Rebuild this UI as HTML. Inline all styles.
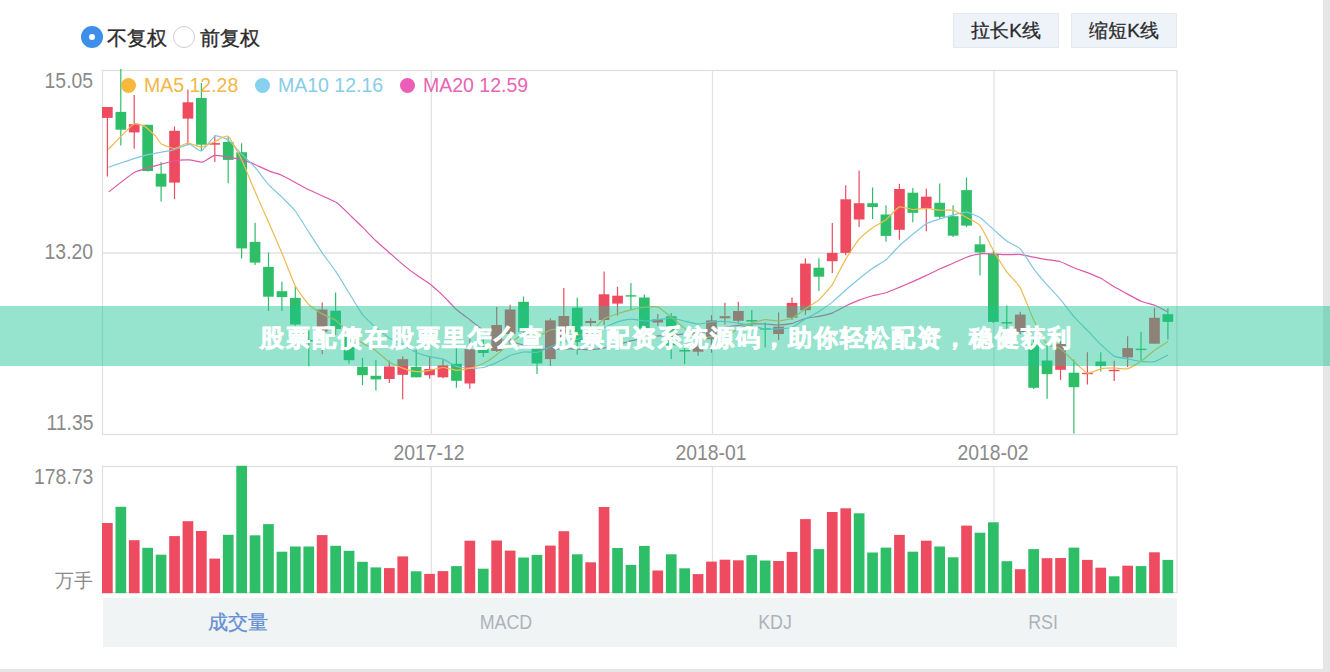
<!DOCTYPE html>
<html><head><meta charset="utf-8">
<style>
html,body{margin:0;padding:0;}
body{width:1330px;height:672px;overflow:hidden;background:#fff;position:relative;font-family:"Liberation Sans",sans-serif;}
.abs{position:absolute;white-space:nowrap;}
.vscroll{position:absolute;left:1323px;top:0;width:7px;height:672px;background:#e6e6e6;}
.hscroll{position:absolute;left:0;top:669px;width:1330px;height:3px;background:#e6e6e6;}
.radio{position:absolute;width:22px;height:22px;border-radius:50%;box-sizing:border-box;}
.r1{left:81px;top:26px;background:#3d8fe9;}
.r1:after{content:"";position:absolute;left:8px;top:8px;width:6px;height:6px;border-radius:50%;background:#fff;}
.r2{left:173px;top:26px;border:1.5px solid #cfcfcf;background:#fff;}
.lbl{font-size:20px;color:#2b2b2b;top:24.5px;-webkit-text-stroke:0.35px #2b2b2b;}
.btn{position:absolute;top:13px;height:35px;width:106px;background:#eef2f9;border:1px solid #e4e8f0;box-sizing:border-box;font-size:19px;color:#2b2b2b;text-align:center;line-height:34px;-webkit-text-stroke:0.3px #2b2b2b;}
.ax{font-size:22px;color:#8a8a8a;transform:scaleX(0.88);}
.yl{right:1236.7px;transform-origin:right top;}
.xl{width:200px;text-align:center;transform-origin:center top;}
.axc{font-size:19px;color:#8a8a8a;}
.leg{font-size:19.5px;top:74px;}
.dot{position:absolute;width:15px;height:15px;border-radius:50%;top:78px;}
.tabs{position:absolute;left:102.5px;top:598px;width:1074.5px;height:49px;background:#f1f4f5;}
.tab{position:absolute;top:610px;font-size:19px;color:#adb2ba;}
.tc{width:200px;text-align:center;font-size:20.5px;top:609.5px;transform:scaleX(0.87);}
.banner{position:absolute;left:0;top:306px;width:1330px;height:60px;background:rgba(27,196,146,0.46);}
.btxt{position:absolute;left:0;top:306px;width:1330px;height:60px;line-height:60px;text-align:left;font-size:24px;font-weight:bold;color:#fff;-webkit-text-stroke:0.8px #fff;letter-spacing:1.95px;}
</style></head><body>
<div class="radio r1"></div><div class="abs lbl" style="left:107px">不复权</div>
<div class="radio r2"></div><div class="abs lbl" style="left:200px">前复权</div>
<div class="btn" style="left:953px">拉长K线</div>
<div class="btn" style="left:1071px">缩短K线</div>

<div class="abs ax yl" style="top:67.5px">15.05</div>
<div class="abs ax yl" style="top:238.5px">13.20</div>
<div class="abs ax yl" style="top:409.5px">11.35</div>
<div class="abs ax xl" style="left:329.4px;top:440px">2017-12</div>
<div class="abs ax xl" style="left:611px;top:440px">2018-01</div>
<div class="abs ax xl" style="left:892.5px;top:440px">2018-02</div>
<div class="abs ax yl" style="top:464px">178.73</div>
<div class="abs axc" style="right:1236.8px;top:568px">万手</div>

<svg style="position:absolute;left:0;top:0" width="1330" height="672">
<line x1="431.3" y1="70" x2="431.3" y2="434" stroke="#e0e2e7" stroke-width="1.3"/>
<line x1="431.3" y1="467" x2="431.3" y2="593" stroke="#e0e2e7" stroke-width="1.3"/>
<line x1="712.5" y1="70" x2="712.5" y2="434" stroke="#e0e2e7" stroke-width="1.3"/>
<line x1="712.5" y1="467" x2="712.5" y2="593" stroke="#e0e2e7" stroke-width="1.3"/>
<line x1="994.0" y1="70" x2="994.0" y2="434" stroke="#e0e2e7" stroke-width="1.3"/>
<line x1="994.0" y1="467" x2="994.0" y2="593" stroke="#e0e2e7" stroke-width="1.3"/>
<line x1="102.5" y1="253" x2="1177" y2="253" stroke="#e0e2e7" stroke-width="1.3"/>
<rect x="102.5" y="70.5" width="1074.5" height="364" fill="none" stroke="#dfe0e3" stroke-width="1.3"/>
<rect x="102.5" y="466.5" width="1074.5" height="126" fill="none" stroke="#dfe0e3" stroke-width="1.3"/>
<line x1="107.4" y1="107.0" x2="107.4" y2="176.6" stroke="#ee4a60" stroke-width="1.2"/>
<rect x="102.0" y="107.0" width="10.7" height="10.9" fill="#ee4a60"/>
<line x1="120.8" y1="69.0" x2="120.8" y2="145.4" stroke="#2fbe68" stroke-width="1.2"/>
<rect x="115.5" y="111.9" width="10.7" height="17.8" fill="#2fbe68"/>
<line x1="134.2" y1="95.1" x2="134.2" y2="148.7" stroke="#ee4a60" stroke-width="1.2"/>
<rect x="128.9" y="124.2" width="10.7" height="8.2" fill="#ee4a60"/>
<line x1="147.7" y1="124.8" x2="147.7" y2="171.5" stroke="#2fbe68" stroke-width="1.2"/>
<rect x="142.3" y="124.8" width="10.7" height="46.2" fill="#2fbe68"/>
<line x1="161.1" y1="162.1" x2="161.1" y2="201.6" stroke="#2fbe68" stroke-width="1.2"/>
<rect x="155.7" y="173.7" width="10.7" height="12.9" fill="#2fbe68"/>
<line x1="174.5" y1="126.4" x2="174.5" y2="199.0" stroke="#ee4a60" stroke-width="1.2"/>
<rect x="169.2" y="130.8" width="10.7" height="51.8" fill="#ee4a60"/>
<line x1="187.9" y1="89.6" x2="187.9" y2="145.4" stroke="#ee4a60" stroke-width="1.2"/>
<rect x="182.6" y="102.3" width="10.7" height="16.3" fill="#ee4a60"/>
<line x1="201.4" y1="82.9" x2="201.4" y2="151.0" stroke="#2fbe68" stroke-width="1.2"/>
<rect x="196.0" y="98.0" width="10.7" height="46.7" fill="#2fbe68"/>
<line x1="214.8" y1="135.3" x2="214.8" y2="162.1" stroke="#ee4a60" stroke-width="1.2"/>
<rect x="209.4" y="143.1" width="10.7" height="1.6" fill="#ee4a60"/>
<line x1="228.2" y1="136.4" x2="228.2" y2="183.3" stroke="#2fbe68" stroke-width="1.2"/>
<rect x="222.9" y="142.0" width="10.7" height="17.9" fill="#2fbe68"/>
<line x1="241.6" y1="143.2" x2="241.6" y2="258.6" stroke="#2fbe68" stroke-width="1.2"/>
<rect x="236.3" y="152.2" width="10.7" height="96.2" fill="#2fbe68"/>
<line x1="255.1" y1="222.8" x2="255.1" y2="265.0" stroke="#2fbe68" stroke-width="1.2"/>
<rect x="249.7" y="241.9" width="10.7" height="20.7" fill="#2fbe68"/>
<line x1="268.5" y1="252.4" x2="268.5" y2="311.0" stroke="#2fbe68" stroke-width="1.2"/>
<rect x="263.1" y="266.9" width="10.7" height="29.8" fill="#2fbe68"/>
<line x1="281.9" y1="281.7" x2="281.9" y2="311.0" stroke="#2fbe68" stroke-width="1.2"/>
<rect x="276.6" y="291.2" width="10.7" height="5.9" fill="#2fbe68"/>
<line x1="295.3" y1="286.4" x2="295.3" y2="325.7" stroke="#2fbe68" stroke-width="1.2"/>
<rect x="290.0" y="297.9" width="10.7" height="26.6" fill="#2fbe68"/>
<line x1="308.8" y1="330.5" x2="308.8" y2="366.2" stroke="#2fbe68" stroke-width="1.2"/>
<rect x="303.4" y="340.0" width="10.7" height="1.5" fill="#2fbe68"/>
<line x1="322.2" y1="302.4" x2="322.2" y2="354.3" stroke="#ee4a60" stroke-width="1.2"/>
<rect x="316.8" y="309.5" width="10.7" height="22.2" fill="#ee4a60"/>
<line x1="335.6" y1="292.4" x2="335.6" y2="335.0" stroke="#2fbe68" stroke-width="1.2"/>
<rect x="330.3" y="310.7" width="10.7" height="18.3" fill="#2fbe68"/>
<line x1="349.0" y1="330.0" x2="349.0" y2="363.8" stroke="#2fbe68" stroke-width="1.2"/>
<rect x="343.7" y="336.5" width="10.7" height="23.7" fill="#2fbe68"/>
<line x1="362.5" y1="357.9" x2="362.5" y2="385.2" stroke="#2fbe68" stroke-width="1.2"/>
<rect x="357.1" y="366.7" width="10.7" height="8.5" fill="#2fbe68"/>
<line x1="375.9" y1="360.0" x2="375.9" y2="390.4" stroke="#2fbe68" stroke-width="1.2"/>
<rect x="370.5" y="375.8" width="10.7" height="3.6" fill="#2fbe68"/>
<line x1="389.3" y1="360.6" x2="389.3" y2="383.0" stroke="#ee4a60" stroke-width="1.2"/>
<rect x="384.0" y="366.5" width="10.7" height="12.5" fill="#ee4a60"/>
<line x1="402.7" y1="356.5" x2="402.7" y2="399.2" stroke="#ee4a60" stroke-width="1.2"/>
<rect x="397.4" y="359.2" width="10.7" height="15.6" fill="#ee4a60"/>
<line x1="416.2" y1="349.2" x2="416.2" y2="377.3" stroke="#2fbe68" stroke-width="1.2"/>
<rect x="410.8" y="366.9" width="10.7" height="10.4" fill="#2fbe68"/>
<line x1="429.6" y1="356.5" x2="429.6" y2="378.8" stroke="#ee4a60" stroke-width="1.2"/>
<rect x="424.2" y="369.0" width="10.7" height="6.2" fill="#ee4a60"/>
<line x1="443.0" y1="359.6" x2="443.0" y2="378.3" stroke="#ee4a60" stroke-width="1.2"/>
<rect x="437.6" y="365.4" width="10.7" height="11.9" fill="#ee4a60"/>
<line x1="456.4" y1="348.1" x2="456.4" y2="387.7" stroke="#2fbe68" stroke-width="1.2"/>
<rect x="451.1" y="363.8" width="10.7" height="17.0" fill="#2fbe68"/>
<line x1="469.8" y1="338.8" x2="469.8" y2="388.8" stroke="#ee4a60" stroke-width="1.2"/>
<rect x="464.5" y="349.2" width="10.7" height="34.3" fill="#ee4a60"/>
<line x1="483.3" y1="338.0" x2="483.3" y2="357.0" stroke="#2fbe68" stroke-width="1.2"/>
<rect x="477.9" y="349.0" width="10.7" height="4.0" fill="#2fbe68"/>
<line x1="496.7" y1="307.0" x2="496.7" y2="352.0" stroke="#ee4a60" stroke-width="1.2"/>
<rect x="491.3" y="325.0" width="10.7" height="26.0" fill="#ee4a60"/>
<line x1="510.1" y1="304.8" x2="510.1" y2="348.0" stroke="#ee4a60" stroke-width="1.2"/>
<rect x="504.8" y="309.5" width="10.7" height="24.5" fill="#ee4a60"/>
<line x1="523.5" y1="296.6" x2="523.5" y2="335.0" stroke="#2fbe68" stroke-width="1.2"/>
<rect x="518.2" y="301.8" width="10.7" height="30.0" fill="#2fbe68"/>
<line x1="537.0" y1="340.0" x2="537.0" y2="374.0" stroke="#2fbe68" stroke-width="1.2"/>
<rect x="531.6" y="347.0" width="10.7" height="16.5" fill="#2fbe68"/>
<line x1="550.4" y1="318.3" x2="550.4" y2="366.1" stroke="#ee4a60" stroke-width="1.2"/>
<rect x="545.0" y="320.4" width="10.7" height="38.7" fill="#ee4a60"/>
<line x1="563.8" y1="288.1" x2="563.8" y2="345.0" stroke="#ee4a60" stroke-width="1.2"/>
<rect x="558.5" y="316.0" width="10.7" height="22.0" fill="#ee4a60"/>
<line x1="577.2" y1="297.8" x2="577.2" y2="354.4" stroke="#2fbe68" stroke-width="1.2"/>
<rect x="571.9" y="307.7" width="10.7" height="34.3" fill="#2fbe68"/>
<line x1="590.7" y1="318.3" x2="590.7" y2="328.7" stroke="#ee4a60" stroke-width="1.2"/>
<rect x="585.3" y="321.0" width="10.7" height="2.0" fill="#ee4a60"/>
<line x1="604.1" y1="271.5" x2="604.1" y2="325.0" stroke="#ee4a60" stroke-width="1.2"/>
<rect x="598.7" y="294.3" width="10.7" height="25.7" fill="#ee4a60"/>
<line x1="617.5" y1="286.7" x2="617.5" y2="315.6" stroke="#ee4a60" stroke-width="1.2"/>
<rect x="612.2" y="295.7" width="10.7" height="7.9" fill="#ee4a60"/>
<line x1="630.9" y1="283.0" x2="630.9" y2="310.0" stroke="#2fbe68" stroke-width="1.2"/>
<rect x="625.6" y="295.2" width="10.7" height="1.4" fill="#2fbe68"/>
<line x1="644.4" y1="294.4" x2="644.4" y2="330.0" stroke="#2fbe68" stroke-width="1.2"/>
<rect x="639.0" y="297.5" width="10.7" height="31.2" fill="#2fbe68"/>
<line x1="657.8" y1="314.0" x2="657.8" y2="326.0" stroke="#ee4a60" stroke-width="1.2"/>
<rect x="652.4" y="319.4" width="10.7" height="3.1" fill="#ee4a60"/>
<line x1="671.2" y1="313.0" x2="671.2" y2="359.0" stroke="#2fbe68" stroke-width="1.2"/>
<rect x="665.9" y="316.2" width="10.7" height="29.1" fill="#2fbe68"/>
<line x1="684.6" y1="347.5" x2="684.6" y2="364.0" stroke="#2fbe68" stroke-width="1.2"/>
<rect x="679.3" y="350.0" width="10.7" height="1.5" fill="#2fbe68"/>
<line x1="698.1" y1="339.0" x2="698.1" y2="355.8" stroke="#ee4a60" stroke-width="1.2"/>
<rect x="692.7" y="346.5" width="10.7" height="5.2" fill="#ee4a60"/>
<line x1="711.5" y1="315.2" x2="711.5" y2="352.7" stroke="#ee4a60" stroke-width="1.2"/>
<rect x="706.1" y="320.4" width="10.7" height="18.8" fill="#ee4a60"/>
<line x1="724.9" y1="302.7" x2="724.9" y2="324.6" stroke="#ee4a60" stroke-width="1.2"/>
<rect x="719.6" y="316.2" width="10.7" height="2.1" fill="#ee4a60"/>
<line x1="738.3" y1="301.7" x2="738.3" y2="322.5" stroke="#ee4a60" stroke-width="1.2"/>
<rect x="733.0" y="311.0" width="10.7" height="9.8" fill="#ee4a60"/>
<line x1="751.8" y1="310.0" x2="751.8" y2="328.8" stroke="#2fbe68" stroke-width="1.2"/>
<rect x="746.4" y="320.0" width="10.7" height="1.5" fill="#2fbe68"/>
<line x1="765.2" y1="322.5" x2="765.2" y2="347.5" stroke="#2fbe68" stroke-width="1.2"/>
<rect x="759.8" y="328.2" width="10.7" height="1.4" fill="#2fbe68"/>
<line x1="778.6" y1="312.4" x2="778.6" y2="340.0" stroke="#ee4a60" stroke-width="1.2"/>
<rect x="773.2" y="326.7" width="10.7" height="7.3" fill="#ee4a60"/>
<line x1="792.0" y1="297.5" x2="792.0" y2="320.0" stroke="#ee4a60" stroke-width="1.2"/>
<rect x="786.7" y="302.9" width="10.7" height="14.8" fill="#ee4a60"/>
<line x1="805.4" y1="258.2" x2="805.4" y2="314.8" stroke="#ee4a60" stroke-width="1.2"/>
<rect x="800.1" y="263.6" width="10.7" height="46.7" fill="#ee4a60"/>
<line x1="818.9" y1="258.2" x2="818.9" y2="291.0" stroke="#2fbe68" stroke-width="1.2"/>
<rect x="813.5" y="267.7" width="10.7" height="9.0" fill="#2fbe68"/>
<line x1="832.3" y1="223.1" x2="832.3" y2="273.1" stroke="#ee4a60" stroke-width="1.2"/>
<rect x="826.9" y="252.9" width="10.7" height="8.3" fill="#ee4a60"/>
<line x1="845.7" y1="185.3" x2="845.7" y2="255.2" stroke="#ee4a60" stroke-width="1.2"/>
<rect x="840.4" y="199.3" width="10.7" height="53.6" fill="#ee4a60"/>
<line x1="859.1" y1="170.4" x2="859.1" y2="227.0" stroke="#ee4a60" stroke-width="1.2"/>
<rect x="853.8" y="203.2" width="10.7" height="16.3" fill="#ee4a60"/>
<line x1="872.6" y1="187.4" x2="872.6" y2="219.0" stroke="#2fbe68" stroke-width="1.2"/>
<rect x="867.2" y="203.2" width="10.7" height="3.8" fill="#2fbe68"/>
<line x1="886.0" y1="205.2" x2="886.0" y2="241.8" stroke="#2fbe68" stroke-width="1.2"/>
<rect x="880.6" y="214.5" width="10.7" height="21.4" fill="#2fbe68"/>
<line x1="899.4" y1="183.8" x2="899.4" y2="239.8" stroke="#ee4a60" stroke-width="1.2"/>
<rect x="894.1" y="189.0" width="10.7" height="40.8" fill="#ee4a60"/>
<line x1="912.8" y1="188.0" x2="912.8" y2="222.2" stroke="#2fbe68" stroke-width="1.2"/>
<rect x="907.5" y="192.7" width="10.7" height="20.1" fill="#2fbe68"/>
<line x1="926.3" y1="188.7" x2="926.3" y2="231.3" stroke="#ee4a60" stroke-width="1.2"/>
<rect x="920.9" y="196.7" width="10.7" height="11.5" fill="#ee4a60"/>
<line x1="939.7" y1="183.5" x2="939.7" y2="218.8" stroke="#2fbe68" stroke-width="1.2"/>
<rect x="934.3" y="202.8" width="10.7" height="14.0" fill="#2fbe68"/>
<line x1="953.1" y1="205.2" x2="953.1" y2="236.9" stroke="#2fbe68" stroke-width="1.2"/>
<rect x="947.8" y="216.2" width="10.7" height="19.5" fill="#2fbe68"/>
<line x1="966.5" y1="177.5" x2="966.5" y2="227.2" stroke="#2fbe68" stroke-width="1.2"/>
<rect x="961.2" y="190.1" width="10.7" height="35.5" fill="#2fbe68"/>
<line x1="980.0" y1="235.7" x2="980.0" y2="275.4" stroke="#2fbe68" stroke-width="1.2"/>
<rect x="974.6" y="244.3" width="10.7" height="8.1" fill="#2fbe68"/>
<line x1="993.4" y1="250.3" x2="993.4" y2="323.0" stroke="#2fbe68" stroke-width="1.2"/>
<rect x="988.0" y="253.7" width="10.7" height="68.2" fill="#2fbe68"/>
<line x1="1006.8" y1="305.4" x2="1006.8" y2="332.0" stroke="#2fbe68" stroke-width="1.2"/>
<rect x="1001.5" y="322.0" width="10.7" height="1.5" fill="#2fbe68"/>
<line x1="1020.2" y1="311.7" x2="1020.2" y2="334.0" stroke="#ee4a60" stroke-width="1.2"/>
<rect x="1014.9" y="314.6" width="10.7" height="17.4" fill="#ee4a60"/>
<line x1="1033.7" y1="340.0" x2="1033.7" y2="389.0" stroke="#2fbe68" stroke-width="1.2"/>
<rect x="1028.3" y="343.7" width="10.7" height="44.1" fill="#2fbe68"/>
<line x1="1047.1" y1="345.1" x2="1047.1" y2="398.8" stroke="#2fbe68" stroke-width="1.2"/>
<rect x="1041.7" y="360.5" width="10.7" height="13.6" fill="#2fbe68"/>
<line x1="1060.5" y1="340.0" x2="1060.5" y2="380.0" stroke="#ee4a60" stroke-width="1.2"/>
<rect x="1055.2" y="343.7" width="10.7" height="26.1" fill="#ee4a60"/>
<line x1="1073.9" y1="359.6" x2="1073.9" y2="433.6" stroke="#2fbe68" stroke-width="1.2"/>
<rect x="1068.6" y="372.7" width="10.7" height="14.5" fill="#2fbe68"/>
<line x1="1087.4" y1="352.2" x2="1087.4" y2="384.6" stroke="#ee4a60" stroke-width="1.2"/>
<rect x="1082.0" y="372.8" width="10.7" height="1.4" fill="#ee4a60"/>
<line x1="1100.8" y1="352.2" x2="1100.8" y2="371.5" stroke="#2fbe68" stroke-width="1.2"/>
<rect x="1095.4" y="361.5" width="10.7" height="4.6" fill="#2fbe68"/>
<line x1="1114.2" y1="360.7" x2="1114.2" y2="380.9" stroke="#ee4a60" stroke-width="1.2"/>
<rect x="1108.8" y="369.8" width="10.7" height="1.4" fill="#ee4a60"/>
<line x1="1127.6" y1="336.2" x2="1127.6" y2="366.9" stroke="#ee4a60" stroke-width="1.2"/>
<rect x="1122.3" y="348.1" width="10.7" height="9.3" fill="#ee4a60"/>
<line x1="1141.0" y1="331.7" x2="1141.0" y2="360.4" stroke="#2fbe68" stroke-width="1.2"/>
<rect x="1135.7" y="348.7" width="10.7" height="1.4" fill="#2fbe68"/>
<line x1="1154.5" y1="307.7" x2="1154.5" y2="343.7" stroke="#ee4a60" stroke-width="1.2"/>
<rect x="1149.1" y="317.8" width="10.7" height="25.9" fill="#ee4a60"/>
<line x1="1167.9" y1="308.3" x2="1167.9" y2="339.4" stroke="#2fbe68" stroke-width="1.2"/>
<rect x="1162.5" y="314.2" width="10.7" height="7.7" fill="#2fbe68"/>
<path d="M108.9,191.8 C110.9,190.3 130.8,174.0 135.7,171.7 C140.6,169.4 169.7,161.9 173.7,161.0 C177.7,160.1 187.1,159.8 189.3,159.9 C191.5,160.0 200.8,162.4 202.7,162.1 C204.6,161.8 212.3,155.6 215.0,155.4 C217.7,155.2 235.7,158.2 238.4,158.8 C241.1,159.4 248.9,161.9 251.3,162.9 C253.7,163.9 268.4,170.7 270.7,171.6 C273.0,172.5 279.4,174.1 282.3,175.5 C285.2,176.9 305.3,188.0 309.4,190.0 C313.5,192.0 333.2,200.5 336.4,202.5 C339.6,204.5 349.9,215.1 351.9,217.0 C353.9,218.9 360.7,225.4 362.5,227.2 C364.3,229.0 373.9,238.9 375.9,240.8 C377.9,242.7 387.3,250.9 389.3,252.7 C391.3,254.4 400.7,262.8 402.7,264.4 C404.7,266.1 414.1,273.3 416.2,274.7 C418.2,276.2 427.6,282.3 429.6,283.8 C431.6,285.4 441.0,293.7 443.0,295.6 C445.0,297.5 454.4,307.7 456.4,309.5 C458.4,311.3 467.8,318.2 469.8,319.7 C471.9,321.3 481.3,328.8 483.3,330.2 C485.3,331.6 494.7,337.6 496.7,338.5 C498.7,339.3 508.1,341.0 510.1,341.5 C512.1,342.0 521.5,344.5 523.5,345.0 C525.6,345.5 535.0,348.0 537.0,348.3 C539.0,348.7 548.4,349.4 550.4,349.5 C552.4,349.6 561.8,349.1 563.8,349.1 C565.8,349.0 575.2,349.0 577.2,349.1 C579.3,349.1 588.7,349.8 590.7,349.7 C592.7,349.6 602.1,348.3 604.1,347.9 C606.1,347.6 615.5,345.2 617.5,344.7 C619.5,344.2 628.9,341.3 630.9,340.8 C632.9,340.3 642.3,338.6 644.4,338.2 C646.4,337.9 655.8,336.1 657.8,335.9 C659.8,335.7 669.2,335.3 671.2,335.2 C673.2,335.0 682.6,334.1 684.6,333.9 C686.6,333.7 696.0,333.0 698.1,332.8 C700.1,332.5 709.5,330.9 711.5,330.5 C713.5,330.1 722.9,327.7 724.9,327.3 C726.9,326.9 736.3,325.7 738.3,325.4 C740.3,325.1 749.7,323.9 751.8,323.8 C753.8,323.7 763.2,324.0 765.2,324.0 C767.2,324.1 776.6,324.9 778.6,324.9 C780.6,324.9 790.0,323.9 792.0,323.4 C794.0,323.0 803.4,319.0 805.4,318.5 C807.5,317.9 816.9,316.7 818.9,316.3 C820.9,315.9 830.3,313.9 832.3,313.1 C834.3,312.3 843.7,307.0 845.7,306.0 C847.7,305.0 857.1,300.9 859.1,300.1 C861.2,299.3 870.6,296.3 872.6,295.7 C874.6,295.2 884.0,293.4 886.0,292.7 C888.0,292.1 897.4,288.2 899.4,287.4 C901.4,286.5 910.8,282.5 912.8,281.6 C914.9,280.7 924.3,276.4 926.3,275.4 C928.3,274.5 937.7,269.9 939.7,269.0 C941.7,268.1 951.1,264.1 953.1,263.2 C955.1,262.3 964.5,257.9 966.5,257.2 C968.5,256.5 977.9,254.0 980.0,253.8 C982.0,253.5 991.4,254.0 993.4,254.1 C995.4,254.1 1004.8,254.7 1006.8,254.7 C1008.8,254.7 1018.2,254.1 1020.2,254.3 C1022.2,254.5 1031.6,256.9 1033.7,257.2 C1035.7,257.6 1045.1,259.3 1047.1,259.6 C1049.1,260.0 1058.5,261.0 1060.5,261.7 C1062.5,262.3 1071.9,267.0 1073.9,267.8 C1075.9,268.7 1085.3,271.9 1087.4,272.6 C1089.4,273.4 1098.8,277.2 1100.8,278.3 C1102.8,279.4 1112.2,285.6 1114.2,286.8 C1116.2,288.0 1125.6,293.0 1127.6,294.1 C1129.6,295.2 1139.0,300.4 1141.0,301.2 C1143.1,302.1 1152.5,304.5 1154.5,305.3 C1156.5,306.1 1166.9,311.5 1167.9,312.0" fill="none" stroke="#de58aa" stroke-width="1.2" stroke-linejoin="round"/>
<path d="M108.3,167.2 C111.0,166.3 139.8,156.7 144.7,155.4 C149.6,154.1 170.4,150.6 173.7,149.8 C177.0,149.0 187.2,144.1 189.3,144.2 C191.4,144.3 199.7,151.6 201.6,151.0 C203.5,150.4 213.0,136.8 215.0,136.0 C217.0,135.2 226.2,138.6 228.2,139.9 C230.2,141.3 239.6,152.0 241.6,154.1 C243.7,156.1 253.1,165.1 255.1,167.4 C257.1,169.7 266.5,182.4 268.5,184.6 C270.5,186.8 279.9,195.2 281.9,197.2 C283.9,199.2 293.3,208.4 295.3,211.0 C297.3,213.6 306.7,228.9 308.8,232.1 C310.8,235.2 320.2,249.9 322.2,252.8 C324.2,255.7 333.6,268.2 335.6,271.2 C337.6,274.2 347.0,289.7 349.0,292.9 C351.0,296.2 360.4,311.9 362.5,314.5 C364.5,317.1 373.9,325.8 375.9,327.6 C377.9,329.3 387.3,336.7 389.3,338.0 C391.3,339.2 400.7,343.1 402.7,344.2 C404.7,345.3 414.1,351.3 416.2,352.2 C418.2,353.2 427.6,356.2 429.6,356.7 C431.6,357.2 441.0,358.4 443.0,359.1 C445.0,359.8 454.4,365.5 456.4,366.2 C458.4,366.9 467.8,368.1 469.8,368.2 C471.9,368.3 481.3,367.9 483.3,367.5 C485.3,367.1 494.7,363.4 496.7,362.5 C498.7,361.6 508.1,356.3 510.1,355.5 C512.1,354.7 521.5,352.2 523.5,352.0 C525.6,351.8 535.0,352.8 537.0,352.4 C539.0,352.1 548.4,347.6 550.4,346.8 C552.4,345.9 561.8,342.0 563.8,341.5 C565.8,340.9 575.2,339.7 577.2,339.1 C579.3,338.5 588.7,334.0 590.7,333.1 C592.7,332.3 602.1,328.5 604.1,327.6 C606.1,326.8 615.5,322.6 617.5,321.9 C619.5,321.3 628.9,319.1 630.9,319.1 C632.9,319.0 642.3,320.9 644.4,321.0 C646.4,321.0 655.8,320.0 657.8,319.7 C659.8,319.5 669.2,317.8 671.2,317.9 C673.2,318.0 682.6,320.6 684.6,321.0 C686.6,321.5 696.0,324.0 698.1,324.1 C700.1,324.2 709.5,322.1 711.5,321.9 C713.5,321.7 722.9,321.4 724.9,321.5 C726.9,321.5 736.3,322.8 738.3,323.1 C740.3,323.4 749.7,325.3 751.8,325.7 C753.8,326.2 763.2,328.8 765.2,329.0 C767.2,329.2 776.6,328.9 778.6,328.8 C780.6,328.7 790.0,327.9 792.0,327.2 C794.0,326.4 803.4,320.1 805.4,319.0 C807.5,317.8 816.9,312.8 818.9,311.5 C820.9,310.2 830.3,303.7 832.3,302.1 C834.3,300.5 843.7,291.8 845.7,290.0 C847.7,288.3 857.1,280.3 859.1,278.7 C861.2,277.1 870.6,269.7 872.6,268.3 C874.6,266.9 884.0,261.5 886.0,259.8 C888.0,258.1 897.4,247.6 899.4,245.7 C901.4,243.8 910.8,236.0 912.8,234.3 C914.9,232.7 924.3,224.9 926.3,223.7 C928.3,222.6 937.7,219.7 939.7,219.0 C941.7,218.4 951.1,215.4 953.1,214.9 C955.1,214.4 964.5,212.0 966.5,212.2 C968.5,212.4 977.9,216.2 980.0,217.5 C982.0,218.8 991.4,227.6 993.4,229.4 C995.4,231.1 1004.8,239.6 1006.8,241.0 C1008.8,242.5 1018.2,246.8 1020.2,248.9 C1022.2,251.0 1031.6,266.1 1033.7,268.8 C1035.7,271.5 1045.1,282.6 1047.1,284.9 C1049.1,287.2 1058.5,297.2 1060.5,299.6 C1062.5,302.0 1071.9,314.3 1073.9,316.6 C1075.9,319.0 1085.3,328.3 1087.4,330.4 C1089.4,332.4 1098.8,342.5 1100.8,344.4 C1102.8,346.3 1112.2,355.1 1114.2,356.1 C1116.2,357.2 1125.6,358.4 1127.6,358.8 C1129.6,359.2 1139.0,361.2 1141.0,361.4 C1143.1,361.6 1152.5,362.2 1154.5,361.7 C1156.5,361.3 1166.9,355.6 1167.9,355.1" fill="none" stroke="#82c6e2" stroke-width="1.2" stroke-linejoin="round"/>
<path d="M108.3,149.4 C110.2,147.5 130.8,125.9 133.5,124.2 C136.2,122.5 143.0,125.5 144.7,126.4 C146.4,127.3 154.6,135.1 155.8,136.4 C157.0,137.7 159.7,142.8 161.1,143.7 C162.5,144.6 172.5,148.5 174.5,148.5 C176.5,148.4 185.9,143.1 187.9,143.0 C190.0,142.9 199.4,147.2 201.4,147.1 C203.4,147.0 212.8,142.3 214.8,141.5 C216.8,140.7 226.2,134.8 228.2,136.2 C230.2,137.5 239.6,155.5 241.6,159.7 C243.7,163.8 253.1,187.1 255.1,191.7 C257.1,196.4 266.5,217.6 268.5,222.1 C270.5,226.7 279.9,248.2 281.9,252.9 C283.9,257.7 293.3,282.0 295.3,285.9 C297.3,289.7 306.7,302.4 308.8,304.5 C310.8,306.6 320.2,312.7 322.2,313.9 C324.2,315.0 333.6,318.9 335.6,320.3 C337.6,321.8 347.0,331.2 349.0,332.9 C351.0,334.6 360.4,341.8 362.5,343.1 C364.5,344.4 373.9,349.2 375.9,350.7 C377.9,352.1 387.3,360.8 389.3,362.1 C391.3,363.4 400.7,367.4 402.7,368.1 C404.7,368.8 414.1,371.4 416.2,371.5 C418.2,371.7 427.6,370.6 429.6,370.3 C431.6,370.0 441.0,367.5 443.0,367.5 C445.0,367.5 454.4,370.3 456.4,370.3 C458.4,370.4 467.8,368.9 469.8,368.3 C471.9,367.8 481.3,364.5 483.3,363.5 C485.3,362.5 494.7,356.2 496.7,354.7 C498.7,353.2 508.1,345.1 510.1,343.5 C512.1,341.9 521.5,334.2 523.5,333.7 C525.6,333.2 535.0,336.8 537.0,336.6 C539.0,336.3 548.4,330.7 550.4,330.0 C552.4,329.4 561.8,327.9 563.8,328.2 C565.8,328.6 575.2,334.4 577.2,334.7 C579.3,335.1 588.7,333.8 590.7,332.6 C592.7,331.4 602.1,320.1 604.1,318.7 C606.1,317.3 615.5,314.5 617.5,313.8 C619.5,313.1 628.9,310.4 630.9,309.9 C632.9,309.4 642.3,307.5 644.4,307.2 C646.4,307.0 655.8,306.2 657.8,306.9 C659.8,307.7 669.2,315.5 671.2,317.1 C673.2,318.7 682.6,326.7 684.6,328.3 C686.6,329.9 696.0,337.7 698.1,338.3 C700.1,338.9 709.5,336.8 711.5,336.6 C713.5,336.5 722.9,336.6 724.9,336.0 C726.9,335.4 736.3,330.1 738.3,329.1 C740.3,328.2 749.7,323.8 751.8,323.1 C753.8,322.4 763.2,319.9 765.2,319.7 C767.2,319.5 776.6,321.1 778.6,321.0 C780.6,320.9 790.0,319.2 792.0,318.3 C794.0,317.4 803.4,310.2 805.4,308.8 C807.5,307.4 816.9,301.7 818.9,299.9 C820.9,298.0 830.3,287.6 832.3,284.6 C834.3,281.5 843.7,262.5 845.7,259.1 C847.7,255.7 857.1,241.5 859.1,239.1 C861.2,236.8 870.6,229.3 872.6,227.8 C874.6,226.4 884.0,221.2 886.0,219.7 C888.0,218.1 897.4,207.6 899.4,206.9 C901.4,206.1 910.8,209.5 912.8,209.6 C914.9,209.7 924.3,208.2 926.3,208.3 C928.3,208.3 937.7,210.1 939.7,210.2 C941.7,210.4 951.1,209.7 953.1,210.2 C955.1,210.7 964.5,216.4 966.5,217.5 C968.5,218.7 977.9,223.0 980.0,225.4 C982.0,227.9 991.4,247.0 993.4,250.5 C995.4,254.0 1004.8,269.0 1006.8,271.8 C1008.8,274.6 1018.2,284.0 1020.2,287.6 C1022.2,291.2 1031.6,315.8 1033.7,320.0 C1035.7,324.3 1045.1,342.2 1047.1,344.4 C1049.1,346.5 1058.5,347.5 1060.5,348.7 C1062.5,350.0 1071.9,359.7 1073.9,361.5 C1075.9,363.3 1085.3,372.6 1087.4,373.1 C1089.4,373.7 1098.8,369.2 1100.8,368.8 C1102.8,368.4 1112.2,367.9 1114.2,367.9 C1116.2,367.9 1125.6,369.3 1127.6,368.8 C1129.6,368.3 1139.0,362.7 1141.0,361.3 C1143.1,360.0 1152.5,351.8 1154.5,350.3 C1156.5,348.9 1166.9,342.2 1167.9,341.5" fill="none" stroke="#efbb4e" stroke-width="1.2" stroke-linejoin="round"/>
<rect x="102.0" y="523.0" width="10.7" height="70.2" fill="#ee4a60"/>
<rect x="115.5" y="506.8" width="10.7" height="86.4" fill="#2fbe68"/>
<rect x="128.9" y="540.2" width="10.7" height="53.0" fill="#ee4a60"/>
<rect x="142.3" y="547.8" width="10.7" height="45.4" fill="#2fbe68"/>
<rect x="155.7" y="554.7" width="10.7" height="38.5" fill="#2fbe68"/>
<rect x="169.2" y="536.1" width="10.7" height="57.1" fill="#ee4a60"/>
<rect x="182.6" y="521.2" width="10.7" height="72.0" fill="#ee4a60"/>
<rect x="196.0" y="531.0" width="10.7" height="62.2" fill="#ee4a60"/>
<rect x="209.4" y="558.6" width="10.7" height="34.6" fill="#ee4a60"/>
<rect x="222.9" y="534.8" width="10.7" height="58.4" fill="#2fbe68"/>
<rect x="236.3" y="465.8" width="10.7" height="127.4" fill="#2fbe68"/>
<rect x="249.7" y="535.3" width="10.7" height="57.9" fill="#2fbe68"/>
<rect x="263.1" y="524.1" width="10.7" height="69.1" fill="#2fbe68"/>
<rect x="276.6" y="551.7" width="10.7" height="41.5" fill="#2fbe68"/>
<rect x="290.0" y="546.5" width="10.7" height="46.7" fill="#2fbe68"/>
<rect x="303.4" y="546.5" width="10.7" height="46.7" fill="#2fbe68"/>
<rect x="316.8" y="535.1" width="10.7" height="58.1" fill="#ee4a60"/>
<rect x="330.3" y="545.8" width="10.7" height="47.4" fill="#2fbe68"/>
<rect x="343.7" y="550.8" width="10.7" height="42.4" fill="#2fbe68"/>
<rect x="357.1" y="561.8" width="10.7" height="31.4" fill="#2fbe68"/>
<rect x="370.5" y="567.4" width="10.7" height="25.8" fill="#2fbe68"/>
<rect x="384.0" y="568.1" width="10.7" height="25.1" fill="#ee4a60"/>
<rect x="397.4" y="556.4" width="10.7" height="36.8" fill="#ee4a60"/>
<rect x="410.8" y="571.3" width="10.7" height="21.9" fill="#2fbe68"/>
<rect x="424.2" y="573.9" width="10.7" height="19.3" fill="#ee4a60"/>
<rect x="437.6" y="571.1" width="10.7" height="22.1" fill="#ee4a60"/>
<rect x="451.1" y="566.1" width="10.7" height="27.1" fill="#2fbe68"/>
<rect x="464.5" y="540.7" width="10.7" height="52.5" fill="#ee4a60"/>
<rect x="477.9" y="568.7" width="10.7" height="24.5" fill="#2fbe68"/>
<rect x="491.3" y="540.5" width="10.7" height="52.7" fill="#ee4a60"/>
<rect x="504.8" y="550.6" width="10.7" height="42.6" fill="#ee4a60"/>
<rect x="518.2" y="557.5" width="10.7" height="35.7" fill="#2fbe68"/>
<rect x="531.6" y="554.9" width="10.7" height="38.3" fill="#2fbe68"/>
<rect x="545.0" y="545.6" width="10.7" height="47.6" fill="#ee4a60"/>
<rect x="558.5" y="531.2" width="10.7" height="62.0" fill="#ee4a60"/>
<rect x="571.9" y="554.3" width="10.7" height="38.9" fill="#2fbe68"/>
<rect x="585.3" y="562.3" width="10.7" height="30.9" fill="#ee4a60"/>
<rect x="598.7" y="507.0" width="10.7" height="86.2" fill="#ee4a60"/>
<rect x="612.2" y="548.0" width="10.7" height="45.2" fill="#2fbe68"/>
<rect x="625.6" y="564.9" width="10.7" height="28.3" fill="#2fbe68"/>
<rect x="639.0" y="545.9" width="10.7" height="47.3" fill="#2fbe68"/>
<rect x="652.4" y="570.5" width="10.7" height="22.7" fill="#ee4a60"/>
<rect x="665.9" y="554.3" width="10.7" height="38.9" fill="#2fbe68"/>
<rect x="679.3" y="568.3" width="10.7" height="24.9" fill="#2fbe68"/>
<rect x="692.7" y="574.1" width="10.7" height="19.1" fill="#ee4a60"/>
<rect x="706.1" y="561.6" width="10.7" height="31.6" fill="#ee4a60"/>
<rect x="719.6" y="559.7" width="10.7" height="33.5" fill="#ee4a60"/>
<rect x="733.0" y="560.3" width="10.7" height="32.9" fill="#ee4a60"/>
<rect x="746.4" y="555.1" width="10.7" height="38.1" fill="#2fbe68"/>
<rect x="759.8" y="560.5" width="10.7" height="32.7" fill="#2fbe68"/>
<rect x="773.2" y="561.0" width="10.7" height="32.2" fill="#ee4a60"/>
<rect x="786.7" y="551.9" width="10.7" height="41.3" fill="#ee4a60"/>
<rect x="800.1" y="519.1" width="10.7" height="74.1" fill="#ee4a60"/>
<rect x="813.5" y="549.1" width="10.7" height="44.1" fill="#2fbe68"/>
<rect x="826.9" y="512.0" width="10.7" height="81.2" fill="#ee4a60"/>
<rect x="840.4" y="508.3" width="10.7" height="84.9" fill="#ee4a60"/>
<rect x="853.8" y="513.3" width="10.7" height="79.9" fill="#2fbe68"/>
<rect x="867.2" y="552.5" width="10.7" height="40.7" fill="#2fbe68"/>
<rect x="880.6" y="547.6" width="10.7" height="45.6" fill="#2fbe68"/>
<rect x="894.1" y="534.9" width="10.7" height="58.3" fill="#ee4a60"/>
<rect x="907.5" y="551.7" width="10.7" height="41.5" fill="#2fbe68"/>
<rect x="920.9" y="540.7" width="10.7" height="52.5" fill="#ee4a60"/>
<rect x="934.3" y="546.5" width="10.7" height="46.7" fill="#2fbe68"/>
<rect x="947.8" y="557.3" width="10.7" height="35.9" fill="#2fbe68"/>
<rect x="961.2" y="525.6" width="10.7" height="67.6" fill="#ee4a60"/>
<rect x="974.6" y="532.7" width="10.7" height="60.5" fill="#2fbe68"/>
<rect x="988.0" y="522.3" width="10.7" height="70.9" fill="#2fbe68"/>
<rect x="1001.5" y="561.2" width="10.7" height="32.0" fill="#2fbe68"/>
<rect x="1014.9" y="569.2" width="10.7" height="24.0" fill="#ee4a60"/>
<rect x="1028.3" y="549.1" width="10.7" height="44.1" fill="#2fbe68"/>
<rect x="1041.7" y="558.2" width="10.7" height="35.0" fill="#ee4a60"/>
<rect x="1055.2" y="558.0" width="10.7" height="35.2" fill="#ee4a60"/>
<rect x="1068.6" y="547.6" width="10.7" height="45.6" fill="#2fbe68"/>
<rect x="1082.0" y="559.9" width="10.7" height="33.3" fill="#ee4a60"/>
<rect x="1095.4" y="567.7" width="10.7" height="25.5" fill="#ee4a60"/>
<rect x="1108.8" y="576.3" width="10.7" height="16.9" fill="#2fbe68"/>
<rect x="1122.3" y="565.7" width="10.7" height="27.5" fill="#ee4a60"/>
<rect x="1135.7" y="566.1" width="10.7" height="27.1" fill="#2fbe68"/>
<rect x="1149.1" y="552.3" width="10.7" height="40.9" fill="#ee4a60"/>
<rect x="1162.5" y="559.9" width="10.7" height="33.3" fill="#2fbe68"/>
</svg>

<div class="dot" style="left:121px;background:#f6b93b"></div><div class="abs leg" style="left:144px;color:#f2b744">MA5 12.28</div>
<div class="dot" style="left:255px;background:#86d1ef"></div><div class="abs leg" style="left:278px;color:#86cde9">MA10 12.16</div>
<div class="dot" style="left:400px;background:#ec5db8"></div><div class="abs leg" style="left:423px;color:#e864b4">MA20 12.59</div>

<div class="tabs"></div>
<div class="abs tab" style="left:207.5px;top:608.5px;font-size:19.6px;color:#6590d4;-webkit-text-stroke:0.3px #6590d4;">成交量</div>
<div class="abs tab tc" style="left:405.6px">MACD</div>
<div class="abs tab tc" style="left:674.6px">KDJ</div>
<div class="abs tab tc" style="left:943.2px">RSI</div>


<div class="vscroll"></div><div class="hscroll"></div>
<div class="banner"></div>
<div class="btxt"><span style="position:absolute;left:260px;top:1.5px">股票配债在股票里怎么查 股票配资系统源码，助你轻松配资，稳健获利</span></div>

</body></html>
